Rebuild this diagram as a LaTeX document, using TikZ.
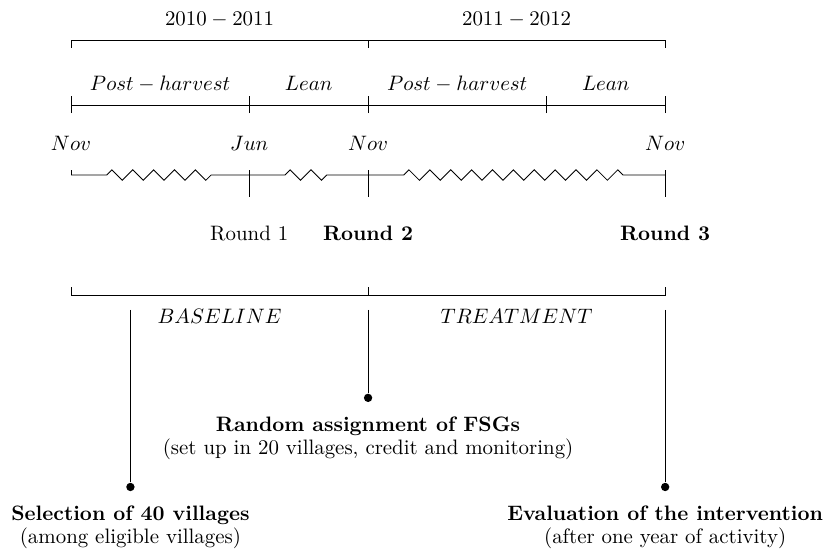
\documentclass[tikz,border=0pt]{standalone}
\usepackage{tikz}
\usetikzlibrary{positioning}
\usetikzlibrary{decorations.pathmorphing}

\begin{document}
\begin{tikzpicture}
\tikzstyle{dot}=[circle,fill=black,inner sep=0pt,minimum size=4pt]
\tikzstyle{zz}=[decorate,decoration={zigzag,pre length=0.6cm,post length=0.6cm}]
\tikzstyle{event}=[align=center]
\tikzstyle{lbl}=[anchor=base]

\useasboundingbox (-1.195,-6.347) rectangle (12.69,2.946);

% years
\draw (0,2.14) -- (0,2.27) -- (10,2.27) -- (10,2.14);
\draw (5,2.27) -- (5,2.14);
\node [lbl] (y1) at (2.5,2.525) {$2010-2011$};
\node [lbl] (y2) at (7.5,2.525) {$2011-2012$};

% seasons
\draw (0,1.18) -- (10,1.18);
\foreach \x in {0,3,5,8,10}
  \draw (\x,1.04) -- (\x,1.33);
\node [lbl] (s1) at (1.5,1.43) {$Post-harvest$};
\node [lbl] (s2) at (4,1.43) {$Lean$};
\node [lbl] (s3) at (6.5,1.43) {$Post-harvest$};
\node [lbl] (s4) at (9,1.43) {$Lean$};

% months
\coordinate (m0) at (0,0);
\coordinate (m1) at (3,0);
\coordinate (m2) at (5,0);
\coordinate (m3) at (10,0);
\draw (0,0.08) -- (m0);
\draw[zz] (m0) -- (m1);
\draw[zz] (m1) -- (m2);
\draw[zz] (m2) -- (m3);
\foreach \x in {3,5,10}
  \draw (\x,0.08) -- (\x,-0.37);
\node [lbl] (nov1) at (0,0.41) {$Nov$};
\node [lbl] (jun) at (3,0.41) {$Jun$};
\node [lbl] (nov2) at (5,0.41) {$Nov$};
\node [lbl] (nov3) at (10,0.41) {$Nov$};

% rounds
\node [lbl] (r1) at (3,-1.094) {Round 1};
\node [lbl] (r2) at (5,-1.094) {\textbf{Round 2}};
\node [lbl] (r3) at (10,-1.094) {\textbf{Round 3}};

% phases
\draw (0,-1.89) -- (0,-2.02) -- (10,-2.02) -- (10,-1.89);
\draw (5,-2.02) -- (5,-1.89);
\node [lbl] (base) at (2.5,-2.497) {$BASELINE$};
\node [lbl] (treat) at (7.5,-2.497) {$TREATMENT$};

% events
\coordinate (e1) at (1,-2.27);
\coordinate (e2) at (5,-2.27);
\coordinate (e3) at (10,-2.27);
\node [dot] (d1) at (1,-5.25) {};
\node [dot] (d2) at (5,-3.75) {};
\node [dot] (d3) at (10,-5.25) {};
\draw (e1) -- (d1);
\draw (e2) -- (d2);
\draw (e3) -- (d3);
\node [event,below=3.5pt of d1] (t1) {\textbf{Selection of 40 villages}\\[-1pt](among eligible villages)};
\node [event,below=3.5pt of d2] (t2) {\textbf{Random assignment of FSGs}\\[-1pt](set up in 20 villages, credit and monitoring)};
\node [event,below=3.5pt of d3] (t3) {\textbf{Evaluation of the intervention}\\[-1pt](after one year of activity)};
\end{tikzpicture}
\end{document}
